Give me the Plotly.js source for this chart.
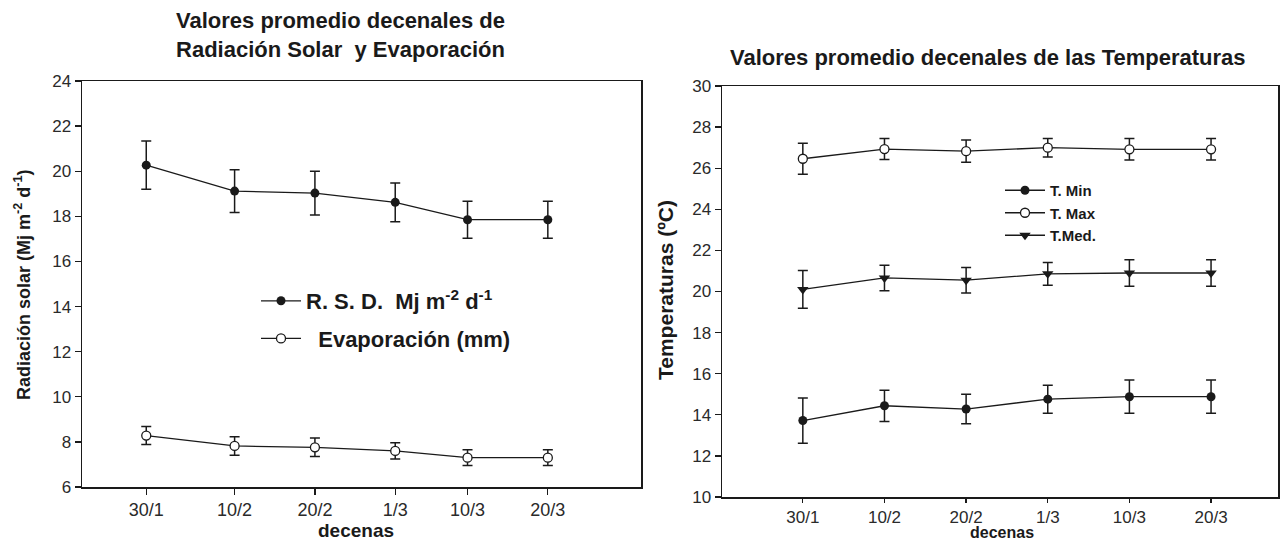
<!DOCTYPE html>
<html>
<head>
<meta charset="utf-8">
<script src="https://cdn.plot.ly/plotly-3.0.1.min.js"></script>
<style>html,body{margin:0;padding:0;background:#fff;}#chart{width:1280px;height:541px;}</style>
</head>
<body>
<div id="chart"></div>
<script>
// Left chart: decade positions (uneven spacing as in the original)
const decenas = ["30/1", "10/2", "20/2", "1/3", "10/3", "20/3"];
const leftX = [1, 2.1, 3.1, 4.1, 5, 6];
const rsd = [20.27, 19.12, 19.03, 18.62, 17.85, 17.85];
const rsdErr = [1.07, 0.95, 0.97, 0.86, 0.82, 0.82];
const evap = [8.28, 7.82, 7.76, 7.6, 7.3, 7.3];
const evapErr = [0.4, 0.41, 0.41, 0.36, 0.35, 0.35];

// Right chart: temperatures
const tMin = [13.72, 14.44, 14.28, 14.76, 14.88, 14.88];
const tMinErr = [1.1, 0.76, 0.72, 0.68, 0.81, 0.81];
const tMax = [26.46, 26.93, 26.83, 27.0, 26.92, 26.92];
const tMaxErr = [0.76, 0.51, 0.54, 0.45, 0.52, 0.52];
const tMed = [20.1, 20.66, 20.55, 20.86, 20.9, 20.9];
const tMedErr = [0.92, 0.62, 0.62, 0.55, 0.65, 0.65];

const FONT = "Liberation Sans, Arial, sans-serif";
const INK = "#1a1a1a";

function errBar(arr) {
  return {type: "data", array: arr, visible: true, color: INK, thickness: 1.5, width: 5};
}

const traces = [
  {x: leftX, y: rsd, xaxis: "x", yaxis: "y", mode: "lines+markers", name: "R. S. D.  Mj m<sup>-2</sup> d<sup>-1</sup>",
   line: {color: INK, width: 1.3}, marker: {symbol: "circle", size: 9, color: INK},
   error_y: errBar(rsdErr), legend: "legend", legendgroup: "a"},
  {x: leftX, y: evap, xaxis: "x", yaxis: "y", mode: "lines+markers", name: "  Evaporación (mm)",
   line: {color: INK, width: 1.3}, marker: {symbol: "circle", size: 9, color: "#fff", line: {color: INK, width: 1.3}},
   error_y: errBar(evapErr), legend: "legend", legendgroup: "b"},
  {x: decenas, y: tMin, xaxis: "x2", yaxis: "y2", mode: "lines+markers", name: "T. Min",
   line: {color: INK, width: 1.3}, marker: {symbol: "circle", size: 9, color: INK},
   error_y: errBar(tMinErr), legend: "legend2"},
  {x: decenas, y: tMax, xaxis: "x2", yaxis: "y2", mode: "lines+markers", name: "T. Max",
   line: {color: INK, width: 1.3}, marker: {symbol: "circle", size: 9, color: "#fff", line: {color: INK, width: 1.3}},
   error_y: errBar(tMaxErr), legend: "legend2"},
  {x: decenas, y: tMed, xaxis: "x2", yaxis: "y2", mode: "lines+markers", name: "T.Med.",
   line: {color: INK, width: 1.3}, marker: {symbol: "triangle-down", size: 10, color: INK},
   error_y: errBar(tMedErr), legend: "legend2"}
];

function axis(extra, tickSize) {
  return Object.assign({
    showline: true, linecolor: INK, linewidth: 1.5, mirror: true, showgrid: false, zeroline: false,
    ticks: "outside", ticklen: 6, tickwidth: 1.3, tickcolor: INK,
    tickfont: {family: FONT, size: tickSize, color: "#2a2a2a"}
  }, extra);
}

const layout = {
  width: 1280, height: 541,
  margin: {l: 0, r: 0, t: 0, b: 0},
  paper_bgcolor: "#fff", plot_bgcolor: "#fff",
  showlegend: true,
  xaxis: axis({domain: [82/1280, 641/1280], anchor: "y", range: [0.2, 7.16],
    tickmode: "array", tickvals: leftX, ticktext: decenas}, 18),
  yaxis: axis({domain: [1 - 487/541, 1 - 81/541], anchor: "x", range: [6, 24], dtick: 2}, 17),
  xaxis2: axis({domain: [722/1280, 1278/1280], anchor: "y2", type: "category", range: [-0.99, 5.82],
    ticklen: 4}, 17),
  yaxis2: axis({domain: [1 - 497/541, 1 - 86/541], anchor: "x2", range: [10, 30], dtick: 2}, 17),
  legend: {x: 256/1280, y: 1 - 280/541, xanchor: "left", yanchor: "top", bgcolor: "rgba(0,0,0,0)",
    font: {family: FONT, size: 22, color: INK, weight: "bold"}, itemwidth: 40, traceorder: "grouped", tracegroupgap: 6},
  legend2: {x: 1000/1280, y: 1 - 174/541, xanchor: "left", yanchor: "top", bgcolor: "rgba(0,0,0,0)",
    font: {family: FONT, size: 15, color: INK, weight: "bold"}, itemwidth: 40, tracegroupgap: 0},
  annotations: [
    {text: "<b>Valores promedio decenales de<br>Radiación Solar  y Evaporación</b>", xref: "paper", yref: "paper",
     x: 340/1280, y: 1 - 35/541, xanchor: "center", yanchor: "middle", showarrow: false,
     font: {family: FONT, size: 22, color: INK}},
    {text: "<b>Valores promedio decenales de las Temperaturas</b>", xref: "paper", yref: "paper",
     x: 988/1280, y: 1 - 57/541, xanchor: "center", yanchor: "middle", showarrow: false,
     font: {family: FONT, size: 22, color: INK}},
    {text: "<b>Radiación solar (Mj m<sup>-2</sup> d<sup>-1</sup>)</b>", xref: "paper", yref: "paper",
     x: 22/1280, y: 1 - 285/541, xanchor: "center", yanchor: "middle", textangle: -90, showarrow: false,
     font: {family: FONT, size: 18, color: INK}},
    {text: "<b>decenas</b>", xref: "paper", yref: "paper",
     x: 356/1280, y: 1 - 530/541, xanchor: "center", yanchor: "middle", showarrow: false,
     font: {family: FONT, size: 19, color: INK}},
    {text: "<b>Temperaturas (ºC)</b>", xref: "paper", yref: "paper",
     x: 665/1280, y: 1 - 290/541, xanchor: "center", yanchor: "middle", textangle: -90, showarrow: false,
     font: {family: FONT, size: 21, color: INK}},
    {text: "<b>decenas</b>", xref: "paper", yref: "paper",
     x: 1002/1280, y: 0, xanchor: "center", yanchor: "bottom", yshift: -2, showarrow: false,
     font: {family: FONT, size: 16, color: INK}}
  ]
};

Plotly.newPlot("chart", traces, layout, {displayModeBar: false, staticPlot: true});
</script>
</body>
</html>
